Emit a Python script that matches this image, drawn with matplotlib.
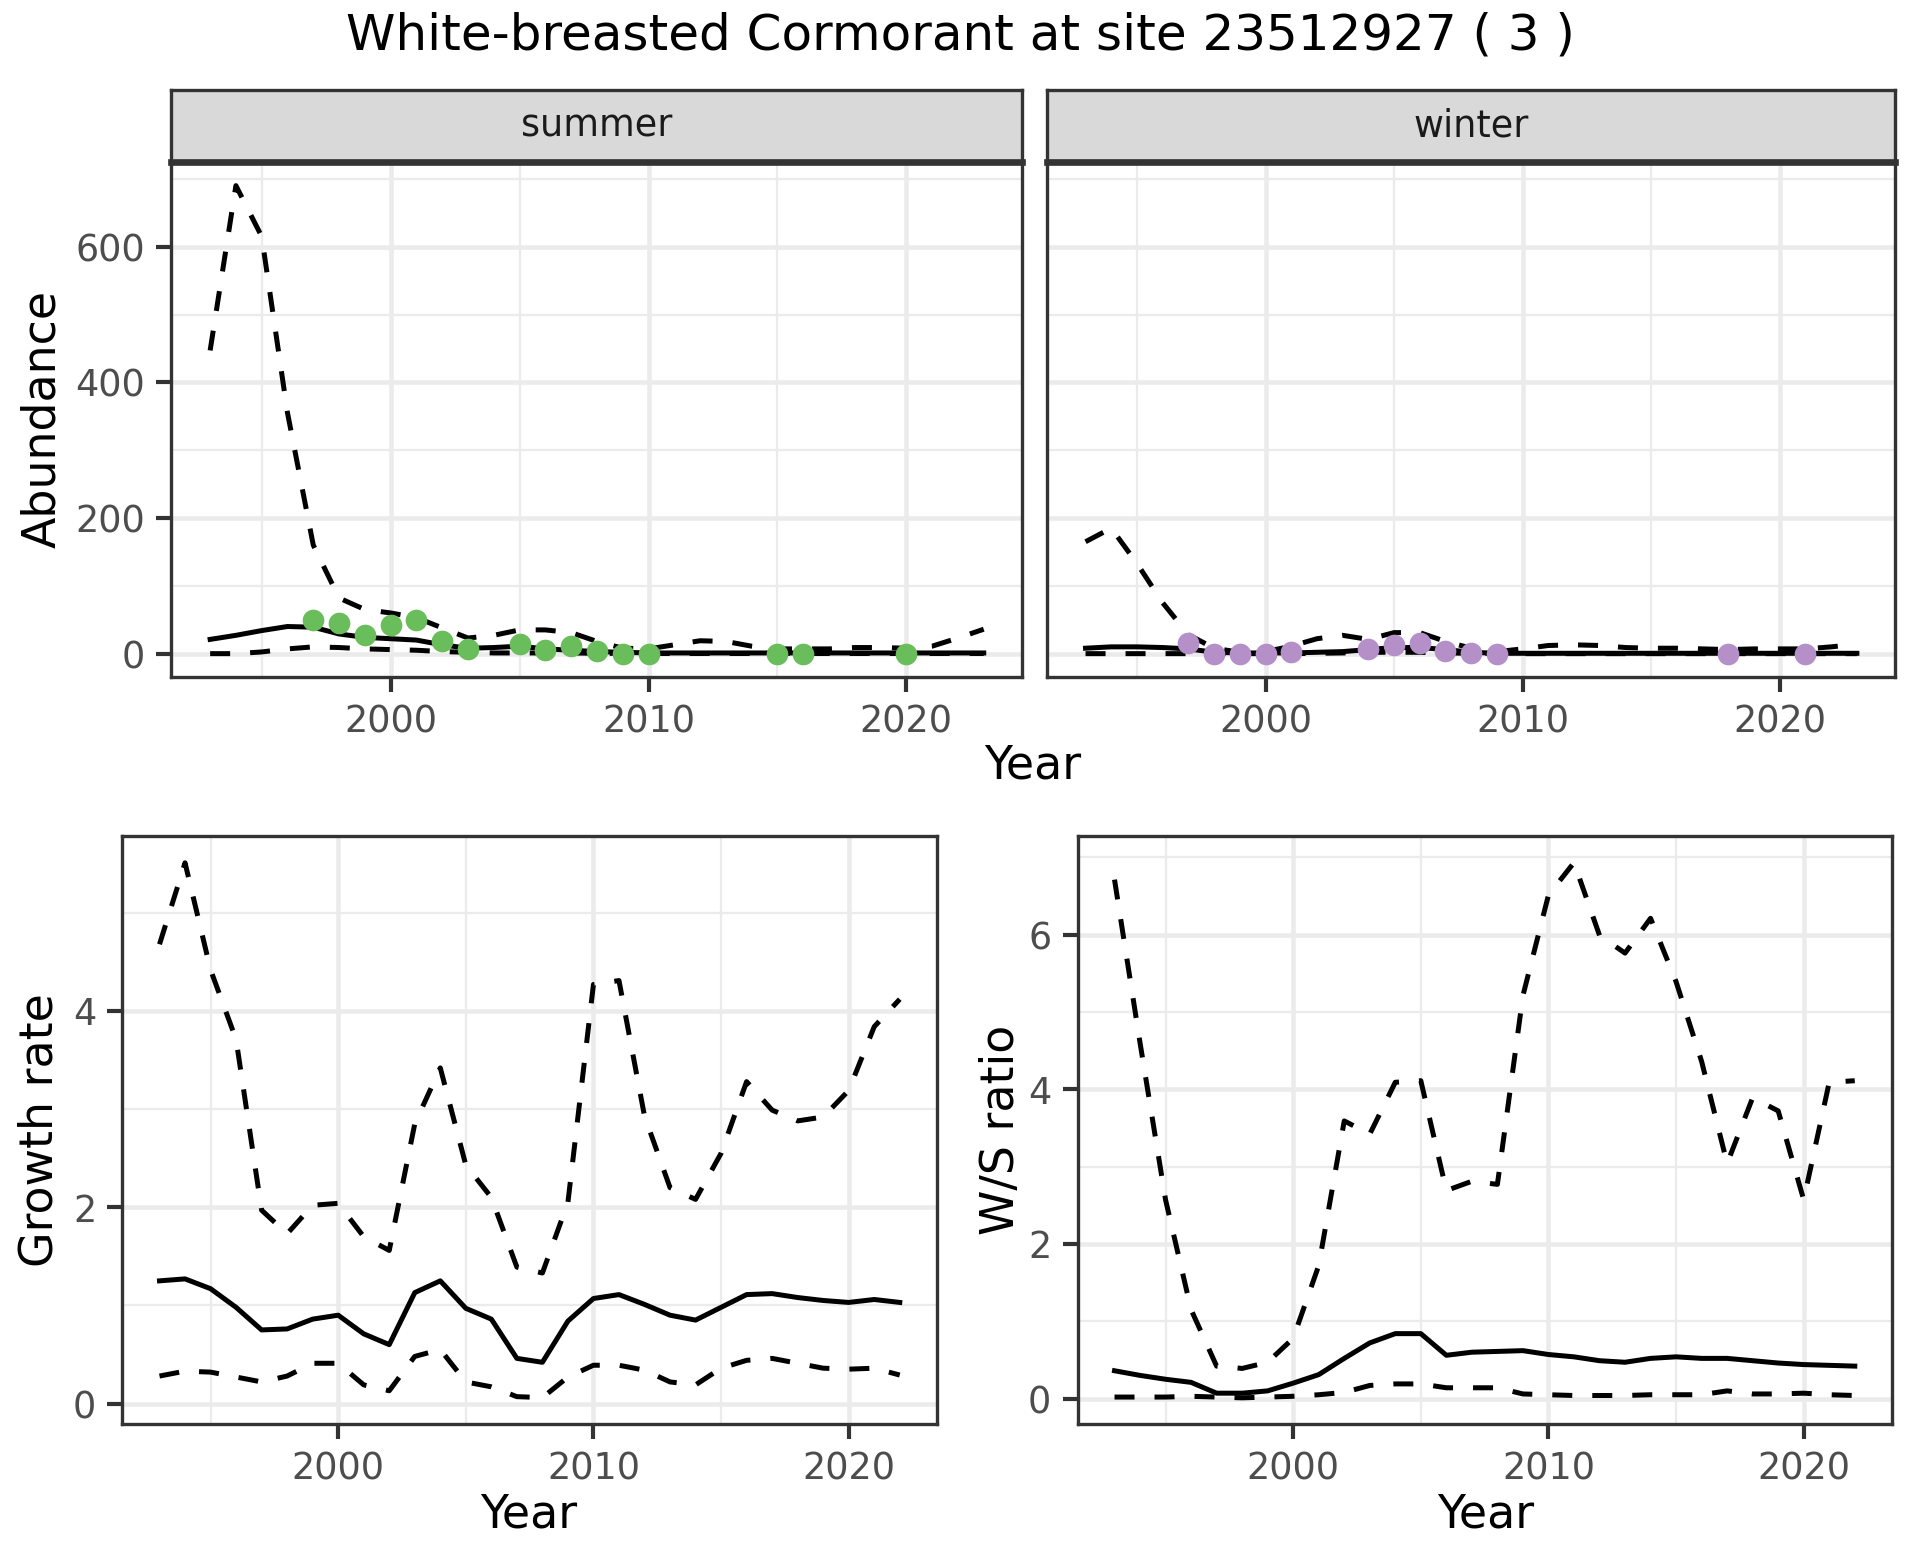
import numpy as np
import matplotlib.pyplot as plt

plt.rcParams['font.family'] = ['DejaVu Sans']

# abundance (top facets), years 1993-2023
years = np.arange(1993, 2024)
summer_mid = [21, 27, 34, 40, 39, 29, 24, 22, 20, 13, 8, 9, 11, 7, 5, 3, 2, 1, 1, 1,
              1, 1, 1, 1, 1, 1, 1, 1, 1, 1, 1]
summer_lo = [0, 0, 2.5, 7, 10, 9, 7, 6, 5, 3, 2, 1, 1, 1, 1, 0.5, 0.3, 0.2, 0.2, 0.2,
             0.2, 0.2, 0.2, 0.2, 0.2, 0.2, 0.2, 0.2, 0.2, 0.2, 0.2]
summer_hi = [447, 690, 615, 355, 160, 82, 65, 60, 53, 38, 23, 27, 35, 35, 31, 18, 8, 7,
             13, 19, 18, 11, 7, 7, 7, 9, 9, 8, 11, 23, 36]
winter_mid = [8, 10, 10, 9, 7, 2, 1, 1, 1, 2, 3, 6, 9, 9, 6, 2, 0.5, 0.5, 0.5, 0.5,
              0.5, 0.5, 0.5, 0.5, 0.5, 0.5, 0.5, 0.5, 0.5, 0.5, 0.5]
winter_lo = [0, 0, 0, 0, 0, 0, 0, 0, 0, 0.5, 1, 2, 2, 2, 1, 0.5, 0, 0, 0, 0,
             0, 0, 0, 0, 0, 0, 0, 0, 0, 0, 0]
winter_hi = [165, 185, 133, 75, 28, 8, 2, 3, 11, 22, 27, 21, 31, 31, 18, 8, 3, 7, 12, 13,
             12, 9, 8, 8, 7, 6, 7, 7, 7, 10, 14]

# observed counts
summer_obs_years = [1997, 1998, 1999, 2000, 2001, 2002, 2003, 2005, 2006, 2007, 2008,
                    2009, 2010, 2015, 2016, 2020]
summer_obs = [50, 45, 27, 42, 49, 18, 7, 14, 6, 12, 4.5, 0, 0, 0, 0, 0]
winter_obs_years = [1997, 1998, 1999, 2000, 2001, 2004, 2005, 2006, 2007, 2008, 2009,
                    2018, 2021]
winter_obs = [15, 0, 0, 0, 3, 7, 13, 16, 4.5, 1, 0, 0, 0]

# growth rate and W/S ratio, years 1993-2022
years2 = np.arange(1993, 2023)
growth_mid = [1.25, 1.27, 1.17, 0.98, 0.75, 0.76, 0.86, 0.90, 0.71, 0.60, 1.13, 1.25,
              0.97, 0.86, 0.46, 0.42, 0.84, 1.07, 1.11, 1.01, 0.90, 0.85, 0.98, 1.11,
              1.12, 1.08, 1.05, 1.03, 1.06, 1.03]
growth_lo = [0.28, 0.33, 0.32, 0.27, 0.22, 0.28, 0.41, 0.41, 0.19, 0.13, 0.48, 0.55,
             0.22, 0.17, 0.07, 0.06, 0.27, 0.39, 0.39, 0.34, 0.22, 0.19, 0.36, 0.44,
             0.46, 0.41, 0.36, 0.35, 0.36, 0.29]
growth_hi = [4.68, 5.51, 4.42, 3.71, 1.97, 1.73, 2.02, 2.04, 1.70, 1.56, 2.85, 3.42,
             2.43, 2.10, 1.39, 1.33, 2.05, 4.27, 4.31, 2.93, 2.20, 2.08, 2.55, 3.28,
             2.99, 2.88, 2.92, 3.19, 3.84, 4.12]
ws_mid = [0.36, 0.30, 0.25, 0.21, 0.07, 0.07, 0.10, 0.20, 0.31, 0.52, 0.72, 0.84,
          0.84, 0.56, 0.60, 0.61, 0.62, 0.57, 0.54, 0.49, 0.47, 0.52, 0.54, 0.52,
          0.52, 0.49, 0.46, 0.44, 0.43, 0.42]
ws_lo = [0.02, 0.02, 0.02, 0.03, 0.02, 0.01, 0.02, 0.03, 0.05, 0.08, 0.17, 0.19,
         0.19, 0.14, 0.14, 0.14, 0.06, 0.05, 0.04, 0.04, 0.04, 0.05, 0.05, 0.05,
         0.10, 0.06, 0.06, 0.07, 0.05, 0.04]
ws_hi = [6.71, 4.60, 2.57, 1.15, 0.42, 0.39, 0.47, 0.78, 1.72, 3.59, 3.42, 4.09,
         4.11, 2.69, 2.81, 2.77, 5.21, 6.51, 6.93, 5.99, 5.76, 6.21, 5.39, 4.36,
         3.04, 3.89, 3.72, 2.57, 4.09, 4.11]

GRID = '#EBEBEB'
DARK = '#333333'
LW = 1.2
DASH = (0, (4, 4))


def style(ax, ymaj, ymin, ylabels=True):
    ax.set_facecolor('white')
    ax.set_xticks([2000, 2010, 2020])
    ax.set_xticks([1995, 2005, 2015], minor=True)
    ax.set_yticks(ymaj)
    ax.set_yticks(ymin, minor=True)
    ax.grid(which='major', color=GRID, lw=1.1)
    ax.grid(which='minor', color=GRID, lw=0.55)
    ax.set_axisbelow(True)
    ax.tick_params(which='minor', length=0)
    ax.tick_params(which='major', length=3.5, width=1.0, color=DARK,
                   labelsize=8.8, labelcolor='#4D4D4D', pad=2.8)
    if not ylabels:
        ax.tick_params(axis='y', which='major', length=0, labelleft=False)
    for s in ax.spines.values():
        s.set_color(DARK)
        s.set_linewidth(0.8)


def strip(fig, rect, label):
    sa = fig.add_axes(rect)
    sa.set_facecolor('#D9D9D9')
    sa.set_xticks([])
    sa.set_yticks([])
    for s in sa.spines.values():
        s.set_color(DARK)
        s.set_linewidth(0.8)
    sa.spines['bottom'].set_linewidth(1.6)
    sa.text(0.5, 0.5, label, ha='center', va='center', fontsize=8.8, color='#1A1A1A')


fig = plt.figure(figsize=(6.4, 5.2), dpi=300)

top_b, top_h = 0.5660, 0.3300
ax1 = fig.add_axes([0.0893, top_b, 0.4432, top_h])
ax2 = fig.add_axes([0.5453, top_b, 0.4419, top_h], sharey=ax1)
strip(fig, [0.0893, top_b + top_h, 0.4432, 0.046], 'summer')
strip(fig, [0.5453, top_b + top_h, 0.4419, 0.046], 'winter')

for ax, mid, lo, hi, oy, ov, col in [
        (ax1, summer_mid, summer_lo, summer_hi, summer_obs_years, summer_obs, '#6ABD5B'),
        (ax2, winter_mid, winter_lo, winter_hi, winter_obs_years, winter_obs, '#B48FC8')]:
    ax.plot(years, hi, color='black', lw=LW, ls=DASH)
    ax.plot(years, lo, color='black', lw=LW, ls=DASH)
    ax.plot(years, mid, color='black', lw=LW)
    ax.plot(oy, ov, 'o', color=col, ms=5.2, mec='none', zorder=5)
    ax.set_xlim(1991.5, 2024.5)

ax1.set_ylim(-34.5, 724.5)
style(ax1, [0, 200, 400, 600], [100, 300, 500, 700])
style(ax2, [0, 200, 400, 600], [100, 300, 500, 700], ylabels=False)

ax3 = fig.add_axes([0.0638, 0.0871, 0.4241, 0.3768])
ax3.plot(years2, growth_hi, color='black', lw=LW, ls=DASH)
ax3.plot(years2, growth_lo, color='black', lw=LW, ls=DASH)
ax3.plot(years2, growth_mid, color='black', lw=LW)
ax3.set_xlim(1991.55, 2023.45)
ax3.set_ylim(-0.21, 5.78)
style(ax3, [0, 2, 4], [1, 3, 5])

ax4 = fig.add_axes([0.5612, 0.0871, 0.4241, 0.3768])
ax4.plot(years2, ws_hi, color='black', lw=LW, ls=DASH)
ax4.plot(years2, ws_lo, color='black', lw=LW, ls=DASH)
ax4.plot(years2, ws_mid, color='black', lw=LW)
ax4.set_xlim(1991.55, 2023.45)
ax4.set_ylim(-0.33, 7.27)
style(ax4, [0, 2, 4, 6], [1, 3, 5, 7])

fig.text(0.5, 0.977, 'White-breasted Cormorant at site 23512927 ( 3 )',
         ha='center', va='center', fontsize=12)
fig.text(0.5376, 0.509, 'Year', ha='center', va='center', fontsize=11)
fig.text(0.022, 0.7316, 'Abundance', ha='center', va='center', fontsize=11, rotation=90)
fig.text(0.2755, 0.029, 'Year', ha='center', va='center', fontsize=11)
fig.text(0.7736, 0.029, 'Year', ha='center', va='center', fontsize=11)
fig.text(0.021, 0.2755, 'Growth rate', ha='center', va='center', fontsize=11, rotation=90)
fig.text(0.5217, 0.2755, 'W/S ratio', ha='center', va='center', fontsize=11, rotation=90)

fig.savefig('out.png', dpi=300)
